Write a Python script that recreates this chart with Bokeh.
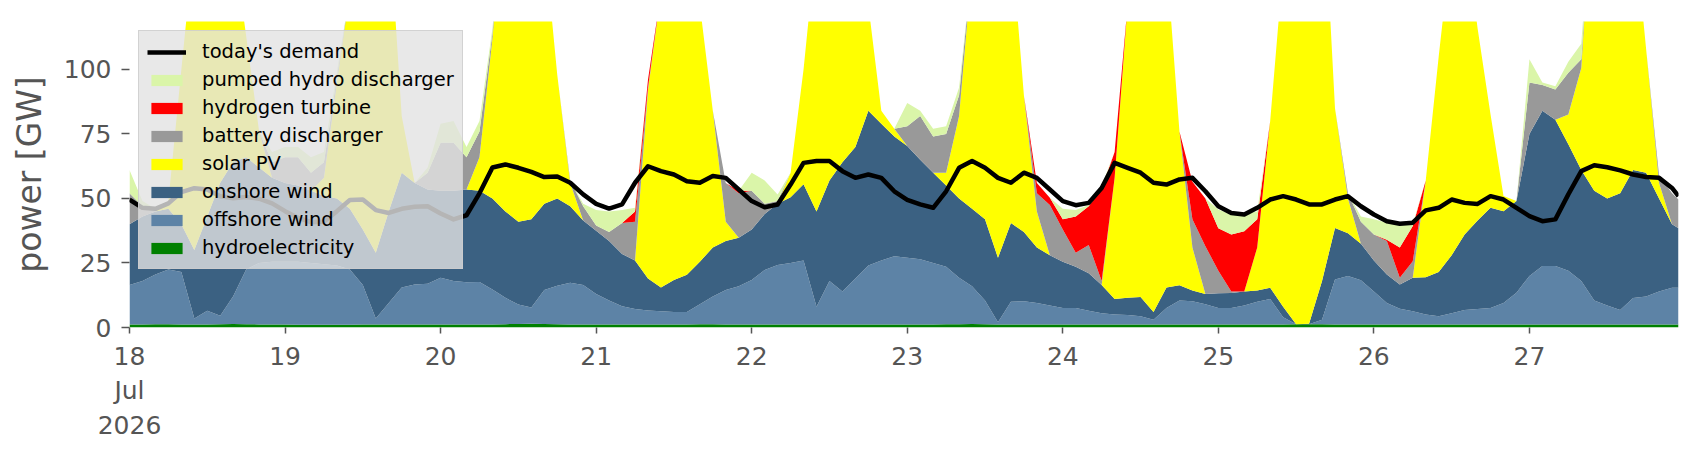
import pandas as pd
from bokeh.plotting import figure
from bokeh.models import (ColumnDataSource, Range1d, DaysTicker, DatetimeTickFormatter,
                          Legend, LegendItem, FixedTicker)
from bokeh.embed import file_html
from bokeh.resources import INLINE

# hours after 18 Jul 2026 00:00 (two-hourly samples, last one at 23:00 on 27 Jul)
hours = list(range(0, 239, 2)) + [239]

hydro = [1.2, 1.2, 1.3, 1.3, 1.2, 1.2, 1.2, 1.3, 1.4, 1.3, 1.2, 1.2,
         1.2, 1.1, 1.1, 1.1, 1.1, 1.1, 1.2, 1.2, 1.2, 1.2, 1.2, 1.2,
         1.2, 1.2, 1.2, 1.2, 1.2, 1.3, 1.4, 1.5, 1.4, 1.3, 1.2, 1.2,
         1.2, 1.2, 1.2, 1.2, 1.2, 1.2, 1.2, 1.2, 1.3, 1.3, 1.2, 1.2,
         1.2, 1.2, 1.2, 1.2, 1.2, 1.2, 1.2, 1.2, 1.2, 1.2, 1.2, 1.2,
         1.2, 1.2, 1.2, 1.3, 1.3, 1.4, 1.3, 1.2, 1.2, 1.2, 1.2, 1.2,
         1.2, 1.2, 1.2, 1.2, 1.2, 1.2, 1.2, 1.2, 1.2, 1.2, 1.2, 1.2,
         1.2, 1.2, 1.2, 1.2, 1.2, 1.2, 1.3, 1.3, 1.3, 1.2, 1.2, 1.2,
         1.2, 1.2, 1.2, 1.2, 1.2, 1.2, 1.2, 1.2, 1.2, 1.2, 1.2, 1.2,
         1.2, 1.2, 1.2, 1.2, 1.2, 1.2, 1.2, 1.2, 1.2, 1.2, 1.2, 1.2,
         1.2]

offshore_wind = [15.3, 16.8, 19.2, 21.2, 20.3, 2.3, 5.3, 3.3, 10.7, 21.2, 23.8, 24.3,
                 24.3, 24.4, 23.9, 23.4, 22.9, 21.4, 15.3, 2.3, 8.3, 14.3, 15.5, 15.8,
                 18.1, 16.8, 16.3, 16.4, 13.5, 10.2, 7.5, 6.3, 13.1, 14.9, 16.1, 15.3,
                 11.8, 9.3, 7.0, 6.0, 5.4, 5.1, 4.8, 4.8, 7.7, 10.7, 13.3, 14.8,
                 17.2, 21.1, 23.0, 23.8, 24.8, 6.8, 16.8, 12.8, 17.8, 22.8, 24.8, 26.4,
                 25.8, 25.3, 23.8, 22.2, 18.0, 14.6, 9.2, 0.8, 8.8, 9.0, 8.3, 7.3,
                 6.4, 6.4, 5.3, 4.3, 3.8, 3.6, 3.2, 1.8, 6.4, 9.3, 9.0, 7.8,
                 6.4, 6.4, 7.3, 8.8, 9.8, 2.8, 0.0, 0.0, 1.7, 17.4, 18.8, 17.1,
                 12.8, 8.3, 6.1, 5.1, 3.8, 3.2, 4.3, 5.6, 6.0, 6.4, 8.3, 12.3,
                 18.8, 22.6, 22.6, 20.8, 16.8, 9.3, 7.3, 5.6, 10.2, 10.8, 12.8, 14.2,
                 14.2]

onshore_wind = [23.5, 25, 24.5, 23.5, 18.5, 26.5, 36.5, 51.5, 52, 43.5, 37, 32.5,
                30.5, 29.5, 28, 26.5, 26, 23.5, 21.5, 25.5, 35.5, 44.5, 39.3, 36.5,
                33.7, 35, 36, 35.4, 35.3, 33.5, 32.1, 34.2, 33.5, 33.8, 29.7, 25,
                24.5, 23, 20.3, 18.8, 12.4, 9.2, 12.4, 14.4, 16.5, 19, 19, 18.8,
                19.6, 21.7, 23.8, 25.5, 29.5, 37, 39, 50, 51, 60, 53, 46.4,
                43.3, 38.5, 35, 31.5, 30.7, 30, 31.5, 25, 30.5, 26.8, 21.5, 19.5,
                17.9, 15.9, 14.5, 11, 6, 6.7, 7.4, 3, 7.9, 5.9, 4.1, 4,
                5.7, 5.8, 5.5, 4.3, 4.4, 4, 0, 0.2, 15, 20, 16.5, 14.2,
                12, 11, 9.4, 13, 14.5, 17.1, 22.5, 29.2, 34.3, 38.8, 35.6, 35.5,
                55, 60.2, 56.7, 49, 43, 42.5, 41.5, 45.2, 49.6, 48, 36, 24.6,
                23.1]

solar_pv = [0, 0, 0, 3, 60, 120, 132, 124, 86, 47, 14, 0,
            0, 0, 0, 7, 45, 84, 127, 146, 115, 22, 0, 0,
            0, 0, 0, 13, 62, 125, 159, 153, 102, 48, 9, 0,
            0, 0, 0, 0, 73, 114.5, 151.6, 144.6, 99.5, 53, 7.5, 0,
            0, 0, 0, 9.5, 44.5, 105, 128, 116, 80, 41, 5, 3,
            0, 0, 0, 5, 32, 94, 138, 163, 111.5, 53, 14, 0,
            0, 0, 0, 0, 47, 113.5, 163, 194, 127.5, 59.6, 16.7, 0,
            0, 0, 0, 16.7, 64.6, 132, 188.7, 198.5, 162, 46.4, 13.5, 0,
            0, 0, 0, 0, 37.5, 83.5, 122, 119, 74.5, 36.2, 5.9, 0,
            0, 0, 0, 11.6, 39.6, 127, 160, 148, 99, 48, 6, 0,
            0]

battery_discharger = [12, 4, 1, 0, 0, 0, 0, 0, 0, 0, 0, 6,
                      10, 11, 7, 6, 2, 0, 0, 0, 0, 0, 0, 6.5,
                      18.6, 18.6, 12.5, 10, 2, 0, 0, 0, 0, 0, 1, 5.5,
                      2, 3.5, 12, 15, 1, 0, 0, 0, 0, 0, 15, 17.2,
                      15, 4, 1, 0, 0, 0, 0, 0, 0, 0, 0, 0,
                      7.7, 17, 14, 15, 8, 0, 0, 0, 0, 0, 7, 19.5,
                      12.5, 5.5, 11, 1.5, 0, 0, 0, 0, 0, 0, 11, 18.5,
                      8.7, 0.6, 0, 0, 0, 0, 0, 0, 0, 0, 2, 8.5,
                      10, 13, 2.6, 6.4, 0, 0, 0, 0, 0, 0, 0, 0,
                      20, 10, 11.7, 16.1, 3.4, 0, 0, 0, 0, 0, 3, 12,
                      11.1]

hydrogen_turbine = [0, 0, 0, 0, 0, 0, 0, 0, 0, 0, 0, 0,
                    0, 0, 0, 0, 0, 0, 0, 0, 0, 0, 0, 0,
                    0, 0, 0, 0, 0, 0, 0, 0, 0, 0, 0, 0,
                    0, 0, 0, 4, 3, 0, 0, 0, 0, 0, 0, 1,
                    0, 0, 0, 0, 0, 0, 0, 0, 0, 0, 0, 0,
                    0, 0, 0, 0, 0, 0, 0, 0, 0, 0, 4, 2.8,
                    4, 14, 15, 36, 10, 0, 0, 0, 0, 0, 14.5, 18.5,
                    16.5, 22, 23.3, 11, 0, 0, 0, 0, 0, 0, 0, 0,
                    0, 0.5, 11.7, 13.6, 0, 0, 0, 0, 0, 0, 0, 0,
                    0, 0, 0, 0, 0, 0, 0, 0, 0, 0, 0, 0,
                    0]

pumped_hydro_discharger = [9, 2, 0, 0, 0, 0, 0, 0, 0, 0, 0, 4,
                           4, 4, 6, 4, 2, 0, 0, 0, 0, 0, 0, 2,
                           7.4, 8.4, 4, 4, 2, 0, 0, 0, 0, 0, 0, 1,
                           6, 8, 5, 1.4, 0, 0, 0, 0, 0, 0, 0, 0,
                           7, 9, 2.5, 0, 0, 0, 0, 0, 0, 0, 0, 0,
                           9, 2, 3, 3, 3, 0, 0, 0, 0, 0, 0, 0,
                           4, 2.5, 0.5, 1, 0, 0, 0, 0, 0, 0, 0, 0,
                           7.2, 7.8, 6.7, 3, 0, 0, 0, 0, 0, 0, 0, 2,
                           6, 6.6, 8.5, 0.7, 0, 0, 0, 0, 0, 0, 0, 0,
                           9, 1, 1.3, 4.3, 6, 0, 0, 0, 0, 0, 0, 0,
                           0]

todays_demand = [49.6, 46.4, 46.0, 48.1, 52.5, 54.0, 53.5, 50.9, 50.1, 50.6, 49.9, 48.1,
                 45.1, 42.5, 40.8, 41.0, 45.1, 49.4, 49.6, 45.5, 44.4, 46.0, 46.8, 47.0,
                 44.2, 41.9, 43.5, 52.0, 62.0, 63.2, 61.9, 60.3, 58.3, 58.5, 56.1, 51.6,
                 47.9, 46.1, 47.7, 56.1, 62.5, 60.6, 59.3, 56.7, 56.1, 58.7, 58.0, 53.5,
                 49.0, 46.6, 47.7, 55.4, 63.8, 64.5, 64.5, 60.6, 58.0, 59.3, 58.0, 52.8,
                 49.5, 47.7, 46.4, 52.8, 61.9, 64.5, 61.9, 58.0, 56.1, 60.0, 58.0, 53.5,
                 49.0, 47.4, 48.3, 54.1, 63.8, 61.9, 60.0, 56.1, 55.4, 57.4, 58.0, 52.8,
                 47.0, 44.4, 43.8, 46.4, 49.6, 50.9, 49.6, 47.7, 47.7, 49.6, 50.9, 47.0,
                 43.8, 41.2, 40.2, 40.6, 45.4, 46.4, 49.6, 48.3, 47.9, 50.9, 49.6, 46.4,
                 43.2, 41.2, 41.9, 51.6, 60.6, 62.9, 62.1, 60.9, 59.3, 58.3, 58.0, 54.1,
                 50.9]

series_names = ["hydroelectricity", "offshore wind", "onshore wind", "solar PV",
                "battery discharger", "hydrogen turbine", "pumped hydro discharger"]
series_colors = ["#008000", "#5d83a6", "#3b6182", "#ffff00", "#999999", "#ff0000", "#daf5a9"]
y_ticks = [0, 25, 50, 75, 100]

start = pd.Timestamp("2026-07-18 00:00")
times = [start + pd.Timedelta(hours=h) for h in hours]

keys = ["hydro", "offshore", "onshore", "solar", "battery", "hydrogen", "pumped"]
source = ColumnDataSource(dict(
    x=times, hydro=hydro, offshore=offshore_wind, onshore=onshore_wind, solar=solar_pv,
    battery=battery_discharger, hydrogen=hydrogen_turbine, pumped=pumped_hydro_discharger,
    demand=todays_demand))

p = figure(width=1690, height=444, x_axis_type="datetime",
           output_backend="svg", toolbar_location=None,
           x_range=Range1d(times[0], times[-1]), y_range=Range1d(0, 118.6),
           min_border_left=129, min_border_right=12, min_border_top=21, min_border_bottom=117)
p.outline_line_color = None
p.background_fill_color = "white"
p.xgrid.visible = False
p.ygrid.visible = False

areas = p.varea_stack(stackers=keys, x="x", color=series_colors, source=source)
demand_line = p.line("x", "demand", source=source, line_color="black", line_width=4.5,
                     line_join="round")

FONT = "DejaVu Sans"
GREY = "#555555"

for ax in (p.xaxis[0], p.yaxis[0]):
    ax.axis_line_color = None
    ax.major_tick_line_color = GREY
    ax.major_tick_line_width = 1.5
    ax.major_tick_in = 0
    ax.minor_tick_line_color = None
    ax.major_label_text_font = FONT
    ax.major_label_text_font_size = "25px"
    ax.major_label_text_color = GREY

p.yaxis.ticker = FixedTicker(ticks=y_ticks)
p.yaxis.major_tick_out = 8
p.yaxis.major_label_standoff = 10
p.yaxis.axis_label = "power [GW]"
p.yaxis.axis_label_text_font = FONT
p.yaxis.axis_label_text_font_size = "33px"
p.yaxis.axis_label_text_font_style = "normal"
p.yaxis.axis_label_text_color = GREY
p.yaxis.axis_label_standoff = 12

p.xaxis.ticker = DaysTicker(days=list(range(1, 32)))
p.xaxis.major_tick_out = 6
p.xaxis.major_label_standoff = 8
p.xaxis.formatter = DatetimeTickFormatter(
    days="%d",
    context=DatetimeTickFormatter(days="%b",
                                  context=DatetimeTickFormatter(days="%Y"),
                                  context_which="all"),
    context_which="start")

order = [6, 5, 4, 3, 2, 1, 0]
items = [LegendItem(label="today's demand", renderers=[demand_line])]
items += [LegendItem(label=series_names[i], renderers=[areas[i]]) for i in order]
legend = Legend(items=items, location="top_left")
legend.label_text_font = FONT
legend.label_text_font_size = "19.5px"
legend.label_text_color = "black"
legend.glyph_width = 39
legend.glyph_height = 14
legend.label_standoff = 16
legend.label_height = 25
legend.spacing = 3
legend.padding = 8
legend.margin = 9
legend.background_fill_color = "#e2e2e2"
legend.background_fill_alpha = 0.8
legend.border_line_color = "#cccccc"
legend.border_line_alpha = 0.8
p.add_layout(legend)

open("out.html", "w").write(file_html(p, INLINE))
